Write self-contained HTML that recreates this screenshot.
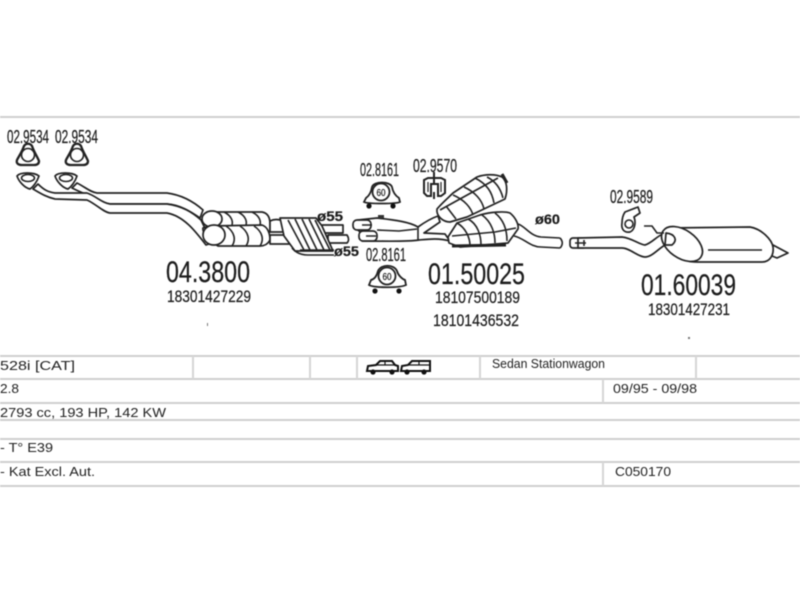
<!DOCTYPE html>
<html><head><meta charset="utf-8"><style>
html,body{margin:0;padding:0;background:#fff;width:800px;height:600px;overflow:hidden}
svg{display:block;filter:blur(.5px)}
text{font-family:"Liberation Sans",sans-serif;fill:#1c1c1c;stroke:#1c1c1c;stroke-width:.22}
.p{fill:#fff;stroke:#222;stroke-width:1.7;stroke-linejoin:round}
.l{fill:none;stroke:#222;stroke-width:1.6}
.d{fill:none;stroke:#222;stroke-width:2}
.t{stroke:#cfcfcf;stroke-width:2}
.v{stroke:#d6d6d6;stroke-width:2}
.s{font-size:12.5px;fill:#222;stroke:none}
</style></head><body>
<svg width="800" height="600" viewBox="0 0 800 600" xmlns="http://www.w3.org/2000/svg">
<rect width="800" height="600" fill="#fff"/>
<line class="t" x1="0" y1="117" x2="800" y2="117"/>
<!-- table -->
<g>
<line class="t" x1="0" y1="356" x2="800" y2="356"/>
<line class="t" x1="0" y1="379" x2="800" y2="379"/>
<line class="t" x1="0" y1="403" x2="800" y2="403"/>
<line class="t" x1="0" y1="420" x2="800" y2="420"/>
<line class="t" x1="0" y1="439" x2="800" y2="439"/>
<line class="t" x1="0" y1="462" x2="800" y2="462"/>
<line class="t" x1="0" y1="486" x2="800" y2="486"/>
<line class="v" x1="193" y1="356" x2="193" y2="379"/>
<line class="v" x1="310" y1="356" x2="310" y2="379"/>
<line class="v" x1="357" y1="356" x2="357" y2="379"/>
<line class="v" x1="480" y1="356" x2="480" y2="379"/>
<line class="v" x1="696" y1="356" x2="696" y2="379"/>
<line class="v" x1="603" y1="379" x2="603" y2="403"/>
<line class="v" x1="603" y1="462" x2="603" y2="486"/>
</g>
<text class="s" x="0" y="370" textLength="75" lengthAdjust="spacingAndGlyphs">528i  [CAT]</text>
<text class="s" x="0" y="393" textLength="19" lengthAdjust="spacingAndGlyphs">2.8</text>
<text class="s" x="0" y="417" textLength="166" lengthAdjust="spacingAndGlyphs">2793 cc, 193 HP, 142 KW</text>
<text class="s" x="0" y="452" textLength="53" lengthAdjust="spacingAndGlyphs">- T° E39</text>
<text class="s" x="0" y="476" textLength="95" lengthAdjust="spacingAndGlyphs">- Kat Excl. Aut.</text>
<text class="s" x="492" y="368" textLength="113" lengthAdjust="spacingAndGlyphs">Sedan Stationwagon</text>
<text class="s" x="613" y="393" textLength="84" lengthAdjust="spacingAndGlyphs">09/95 - 09/98</text>
<text class="s" x="615" y="476" textLength="56" lengthAdjust="spacingAndGlyphs">C050170</text>
<!-- cars -->
<path d="M367 371 L368 366 L376 365 L380 361 L392 361 L395 365 L398 366 L398 371Z" fill="#fff" stroke="#111" stroke-width="2"/>
<path d="M385 361 L385 365 M376 365 L396 365" stroke="#111" stroke-width="1.2"/>
<circle cx="373" cy="372" r="2.6" fill="#111"/><circle cx="392" cy="372" r="2.6" fill="#111"/>
<path d="M401 371 L402 366 L408 365 L412 361 L430 361 L430 371Z" fill="#fff" stroke="#111" stroke-width="2"/>
<path d="M408 365 L430 365 M419 361 L419 365" stroke="#111" stroke-width="1.2"/>
<circle cx="407" cy="372" r="2.6" fill="#111"/><circle cx="424" cy="372" r="2.6" fill="#111"/>

<!-- front pipes -->
<path class="p" d="M77 183 C85 187 90 192 97 193 L167 193 C182 195 194 202 203 210 L200 218 C190 211 180 205 167 204 L110 204 C103 203 98 199 93 197 C85 194 78 191 72 188Z"/>
<path class="p" d="M38 184 C44 190 48 192 55 193 L87 193 C96 196 102 203 110 204 L167 204 C182 206 192 212 201 220 L212 243 L206 245 C196 232 184 216 167 213 L110 213 C103 212 96 204 87 200 L55 199 C46 197 40 193 33 189Z"/>
<!-- flanges -->
<path class="p" d="M17 176 C20 172 34 172 39 176 C37 182 33 187 30 189 C25 188 19 182 17 176Z" stroke-width="2.6"/>
<ellipse class="l" cx="28" cy="178" rx="6.5" ry="3.5" stroke-width="2"/>
<path class="p" d="M55 176 C58 172 72 172 77 176 C75 182 71 187 68 189 C63 188 57 182 55 176Z" stroke-width="2.6"/>
<ellipse class="l" cx="66" cy="178" rx="6.5" ry="3.5" stroke-width="2"/>
<!-- triangles -->
<path d="M24 146 C26 143 30 143 32 146 C34 152 37 156 39 161 C39 164 37 165 34 165 L22 165 C18 165 16 163 17 160 C19 156 22 152 24 146Z" fill="#fff" stroke="#222" stroke-width="2.3"/>
<circle class="l" cx="28" cy="155" r="6.5" stroke-width="2"/>
<path d="M73 146 C75 143 79 143 81 146 C83 152 86 156 88 161 C88 164 86 165 83 165 L71 165 C67 165 65 163 66 160 C68 156 71 152 73 146Z" fill="#fff" stroke="#222" stroke-width="2.3"/>
<circle class="l" cx="77" cy="155" r="6.5" stroke-width="2"/>
<!-- first cats -->
<g>
<path class="p" d="M207 212 L262 212 C268 213 270 218 270 224 L270 232 L207 227Z"/>
<ellipse class="p" cx="212" cy="219" rx="10" ry="8"/>
<path class="l" d="M224 212 C232 216 234 222 231 228 M238 212 C246 216 248 222 245 228 M252 212 C260 216 262 222 259 228"/>
<path class="p" d="M210 226 L262 225 C268 227 270 234 270 240 C268 244 264 246 260 246 L218 246 C208 240 202 232 203 228Z"/>
<ellipse class="p" cx="214" cy="235" rx="11" ry="10"/>
<path class="l" d="M226 226 C235 232 236 240 232 246 M240 226 C249 232 250 240 246 246 M254 226 C263 232 264 240 260 246"/>
</g>
<!-- connecting cat -->
<g>
<path class="p" d="M270 221 C276 218 284 220 287 224 C288 228 286 231 282 232 L270 232Z"/>
<path class="p" d="M270 235 L296 235 L296 244 L270 244Z"/>
<path class="p" d="M322 225 L343 225 L343 233 L322 233Z"/>
<path class="p" d="M328 235 L347 235 C349 238 349 241 347 243 L328 243Z"/>
<path class="p" d="M280 218 L316 218 L322 226 L333 251 L295 251 L284 236 Z"/>
<path class="l" d="M288 220 L304 250 M295 219 L310 250 M302 219 L317 250 M309 219 L324 250 M315 220 L330 250" stroke-width="2.2"/>
<path class="l" d="M292 248 C296 253 302 255 308 255 L334 255 M300 250 L334 250" stroke-width="2"/>
</g>
<!-- centre pipes -->
<path class="p" d="M358 220 L377 218 C395 220 410 222 418 227 C425 222 432 218 438 216 L440 222 L424 233 L445 234 L450 241 C438 238 430 239 419 240 C408 242 380 241 362 241 L360 232 L358 230Z"/>
<rect class="p" x="353" y="220" width="18" height="10" rx="4"/>
<rect class="p" x="359" y="231" width="18" height="10" rx="4"/>
<path class="l" d="M362 225 L372 225 M366 236 L376 236 M377 230 L399 231 L417 229 M418 227 L418 240"/>
<rect x="378" y="215" width="6" height="3" fill="#333"/>
<!-- upper muffler -->
<path class="p" d="M437 209 C441 204 449 197 453 193 L477 177 C485 174 496 174 502 177 C507 181 508 190 505 199 L467 217 L450 222 C443 222 436 216 437 209Z" stroke-width="2"/>
<path class="l" d="M446 206 L456 219 M453 195 C465 200 471 208 473 215 M464 187 C475 192 482 200 484 209 M475 178 C487 184 492 192 494 203 M487 177 C497 182 501 190 503 198"/>
<path class="l" d="M440 210 L498 178" stroke-width="1.1"/>
<path d="M502 174 L507 183" stroke="#222" stroke-width="3"/>
<!-- lower muffler -->
<path class="p" d="M448 237 L457 223 L480 215 C490 212 505 211 510 213 C515 217 519 224 518 229 L508 243 L460 247 L449 243Z" stroke-width="2"/>
<path class="l" d="M457 223 C466 228 470 238 470 246 M468 219 C478 224 481 236 481 245 M482 215 C492 222 495 234 495 243 M495 213 C504 220 507 230 507 241"/>
<path class="l" d="M452 236 L495 232 L516 228" stroke-width="1.1"/>
<path d="M452 246 L506 245" stroke="#222" stroke-width="3"/>
<path class="l" d="M518 224 C525 226 530 236 541 237 L560 238 M514 236 C524 238 530 247 541 247 L560 248"/>
<path class="l" d="M560 238 C563 241 563 245 560 248"/>
<!-- rear pipe -->
<rect class="p" x="570" y="238" width="16" height="10" rx="3"/>
<path class="p" d="M578 238 L622 237 C632 238 640 245 645 245 C652 243 657 236 663 234 L665 245 C658 249 652 257 645 257 C638 257 630 248 622 248 L578 248Z"/>
<path class="l" d="M575 243 L586 243 M584 240 L584 246"/>
<!-- rear muffler -->
<path class="p" d="M773 245 L788 253 L777 258 L772 256Z"/>
<path class="p" d="M667 228 L750 227 C762 229 772 240 773 247 C774 255 770 262 762 262 L697 262 C680 262 665 250 663 240 C663 235 663 230 667 228Z"/>
<ellipse class="p" cx="682" cy="244" rx="23" ry="14" transform="rotate(35 682 244)"/>
<path class="p" d="M666 233 C675 234 678 240 672 245 L665 245Z"/>
<line class="l" x1="708" y1="250" x2="762" y2="250"/>
<path class="l" d="M644 226 L652 226 L657 233 L664 233" stroke-width="2"/>
<!-- rear hanger -->
<path class="p" d="M625 212 L638 207 L640 213 L634 217 C636 222 635 230 630 232 C624 233 621 229 622 223 C622 219 623 215 625 212Z" stroke-width="2.2"/>
<circle class="l" cx="629" cy="224" r="4" stroke-width="2.2"/>
<!-- clamps -->
<g fill="#fff" stroke="#222" stroke-width="1.8">
<path d="M366 198 C369 196 371 193 372 187 C374 181 390 181 392 187 C393 193 396 196 399 198 L400 202 C396 204 368 204 364 202Z"/>
<circle cx="381" cy="192" r="8.5"/>
<circle cx="369" cy="206" r="2.6" fill="#111" stroke="none"/>
<circle cx="393" cy="206" r="2.6" fill="#111" stroke="none"/>
</g>
<text x="381" y="196" text-anchor="middle" font-size="10" textLength="9" lengthAdjust="spacingAndGlyphs">60</text>
<g fill="#fff" stroke="#222" stroke-width="1.8">
<path d="M371 280 C375 279 377 275 378 271 C381 264 394 264 397 271 C398 275 402 279 405 280 L406 285 C400 288 374 288 369 285Z"/>
<circle cx="387" cy="276" r="8.5"/>
<circle cx="375" cy="291" r="2.6" fill="#111" stroke="none"/>
<circle cx="399" cy="291" r="2.6" fill="#111" stroke="none"/>
</g>
<text x="387" y="280" text-anchor="middle" font-size="10" textLength="9" lengthAdjust="spacingAndGlyphs">60</text>
<!-- bracket -->
<g fill="none" stroke="#222" stroke-width="2">
<path d="M428 178 L441 178 L445 180 L445 193 L441 196 L438 196 L438 184 L431 184 L431 196 L427 196 L424 193 L424 180Z" fill="#fff"/>
<path d="M434 172 L434 184 M434 192 L434 199"/>
<path d="M428 182 L428 192 M441 182 L441 192" stroke-width="1.2"/>
</g>
<!-- labels -->
<g font-size="18">
<text x="7" y="143" textLength="42" lengthAdjust="spacingAndGlyphs">02.9534</text>
<text x="55" y="143" textLength="43" lengthAdjust="spacingAndGlyphs">02.9534</text>
<text x="360" y="176" textLength="39" lengthAdjust="spacingAndGlyphs">02.8161</text>
<text x="413" y="172" textLength="44" lengthAdjust="spacingAndGlyphs">02.9570</text>
<text x="366" y="261" textLength="40" lengthAdjust="spacingAndGlyphs">02.8161</text>
<text x="610" y="203" textLength="43" lengthAdjust="spacingAndGlyphs">02.9589</text>
</g>
<g font-size="30">
<text x="166" y="282" textLength="84" lengthAdjust="spacingAndGlyphs">04.3800</text>
<text x="428" y="284" textLength="97" lengthAdjust="spacingAndGlyphs">01.50025</text>
<text x="641" y="295" textLength="95" lengthAdjust="spacingAndGlyphs">01.60039</text>
</g>
<g font-size="17">
<text x="167" y="302" textLength="84" lengthAdjust="spacingAndGlyphs">18301427229</text>
<text x="435" y="303" textLength="85" lengthAdjust="spacingAndGlyphs">18107500189</text>
<text x="433" y="326" textLength="86" lengthAdjust="spacingAndGlyphs">18101436532</text>
<text x="648" y="315" textLength="82" lengthAdjust="spacingAndGlyphs">18301427231</text>
</g>
<g font-size="14" font-weight="bold">
<text x="317" y="221" textLength="26" lengthAdjust="spacingAndGlyphs">ø55</text>
<text x="334" y="256" textLength="25" lengthAdjust="spacingAndGlyphs">ø55</text>
<text x="535" y="224" textLength="25" lengthAdjust="spacingAndGlyphs">ø60</text>
</g>
<rect x="207" y="323" width="1" height="3" fill="#777"/>
<rect x="688" y="337" width="2" height="2" fill="#777"/>
</svg>
</body></html>
